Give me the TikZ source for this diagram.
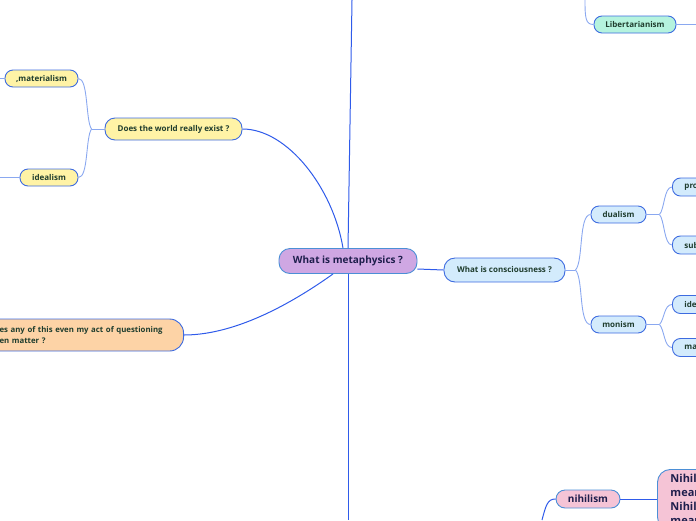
\documentclass[tikz,border=0pt]{standalone}
\usepackage{fontspec}
\setmainfont{Open Sans}
\definecolor{mainl}{HTML}{2F5BEA}
\definecolor{subl}{HTML}{8AA8F0}
\definecolor{nbord}{HTML}{3D6BE0}
\definecolor{cbord}{HTML}{4B8FD6}
\definecolor{cpurple}{HTML}{CFA7E3}
\definecolor{cyel}{HTML}{FFF3A6}
\definecolor{cpeach}{HTML}{FDD3A6}
\definecolor{cblue}{HTML}{D3EBFC}
\definecolor{cmint}{HTML}{B5F3DE}
\definecolor{cpink}{HTML}{F5C4D6}
\definecolor{txtg}{HTML}{1F3D2E}
\definecolor{txtn}{HTML}{1E1E4C}
\begin{document}
\begin{tikzpicture}[x=1pt,y=-1pt,
  mm/.style={draw=nbord, line width=0.9pt, rounded corners=8pt, inner sep=0pt,
    minimum height=17pt, text=txtg, font=\bfseries\fontsize{8}{10}\selectfont},
  mainline/.style={draw=mainl, line width=1pt},
  subline/.style={draw=subl, line width=0.9pt}]
\useasboundingbox (0,0) rectangle (696,520);
\clip (0,0) rectangle (696,520);
% nodes
\node[mm, draw=cbord, fill=cpurple, minimum width=138pt, minimum height=25pt, rounded corners=11pt,
  text=txtn, font=\bfseries\fontsize{10}{12}\selectfont] (center) at (348,261) {What is metaphysics ?};
\node[mm, fill=cyel, minimum width=137pt, minimum height=22pt, rounded corners=10pt] (world) at (173.5,129) {Does the world really exist ?};
\node[mm, fill=cyel, minimum width=73pt] (mat) at (41.5,78.5) {,materialism};
\node[mm, fill=cyel, minimum width=58pt] (ideal) at (49,177.5) {idealism};
\node[mm, fill=cpeach, minimum height=32pt, rounded corners=14pt, anchor=east, text width=170pt,
  align=left, inner xsep=14pt, font=\bfseries\fontsize{7.8}{11}\selectfont] (quest) at (184,335)
  {es any of this even my act of questioning\\en matter ?};
\node[mm, fill=cblue, minimum width=121pt, minimum height=24pt, rounded corners=11pt] (cons) at (504.5,270) {What is consciousness ?};
\node[mm, fill=cblue, minimum width=55pt] (dual) at (618.5,214.5) {dualism};
\node[mm, fill=cblue, minimum width=55pt] (mon) at (618.5,324.5) {monism};
\node[mm, fill=cblue, anchor=west, text width=60pt, align=left, inner xsep=12pt, minimum height=18pt] (pro) at (672,187) {pro};
\node[mm, fill=cblue, anchor=west, text width=60pt, align=left, inner xsep=12pt, minimum height=18pt] (sub) at (672,245) {sub};
\node[mm, fill=cblue, anchor=west, text width=60pt, align=left, inner xsep=12pt, minimum height=18pt] (ide) at (672,304.5) {ide};
\node[mm, fill=cblue, anchor=west, text width=60pt, align=left, inner xsep=12pt, minimum height=18pt] (ma) at (672,347.5) {ma};
\node[mm, fill=cmint, minimum width=82pt] (lib) at (635,24.5) {Libertarianism};
\node[mm, draw=cbord, fill=cpink, minimum width=64pt, minimum height=18pt, rounded corners=9pt,
  text=txtn, font=\bfseries\fontsize{10}{12}\selectfont] (nih) at (588,499) {nihilism};
\node[mm, draw=cbord, fill=cpink, anchor=north west, rounded corners=13pt, text width=70pt, align=left,
  inner xsep=13pt, inner ysep=5pt, text=txtn, font=\bfseries\fontsize{11}{14}\selectfont] (big) at (657,469)
  {Nihil\\mean\\Nihil\\mean};
% free ends
\coordinate (topend) at (352,0);
\coordinate (botend) at (348,520);
\coordinate (libtop) at (585,0);
\coordinate (libr) at (696,24.5);
\coordinate (matl) at (0,78.5);
\coordinate (idl) at (0,177.5);
\coordinate (nb) at (542,520);
\coordinate (jc) at ([xshift=10pt]cons.east);
\coordinate (jd) at ([xshift=13pt]dual.east);
\coordinate (jm) at ([xshift=13pt]mon.east);
\coordinate (jw) at ([xshift=-13pt]world.west);
% connectors
\draw[mainline] (center.north) -- (topend);
\draw[mainline] (center.south) -- (botend);
\draw[mainline] (world.east) .. controls +(45,0) and +(-10,-60) .. ([xshift=-5pt]center.north);
\draw[mainline] (quest.east) .. controls +(55,0) and +(-35,25) .. ([xshift=-15pt]center.south);
\draw[mainline] ([yshift=-8pt]center.east) -- (cons.west);
\draw[subline] (cons.east) -- (jc);
\draw[subline] (jc) .. controls +(8,-8) and +(-12,0) .. (dual.west);
\draw[subline] (jc) .. controls +(8,8) and +(-12,0) .. (mon.west);
\draw[subline] (dual.east) -- (jd);
\draw[subline] (jd) .. controls +(5,-5) and +(-8,0) .. (pro.west);
\draw[subline] (jd) .. controls +(5,5) and +(-8,0) .. (sub.west);
\draw[subline] (mon.east) -- (jm);
\draw[subline] (jm) .. controls +(5,-5) and +(-8,0) .. (ide.west);
\draw[subline] (jm) .. controls +(5,5) and +(-8,0) .. (ma.west);
\draw[subline] (world.west) -- (jw);
\draw[subline] (jw) .. controls +(-6,-8) and +(10,0) .. (mat.east);
\draw[subline] (jw) .. controls +(-6,8) and +(10,0) .. (ideal.east);
\draw[subline] (mat.west) -- (matl);
\draw[subline] (ideal.west) -- (idl);
\draw[subline] (libtop) .. controls +(0,18) and +(-8,0) .. (lib.west);
\draw[subline] (lib.east) -- (libr);
\draw[mainline] (nb) .. controls +(4,-15) and +(-8,0) .. (nih.west);
\draw[mainline] (nih.east) -- (nih.east -| big.west);
\end{tikzpicture}
\end{document}
